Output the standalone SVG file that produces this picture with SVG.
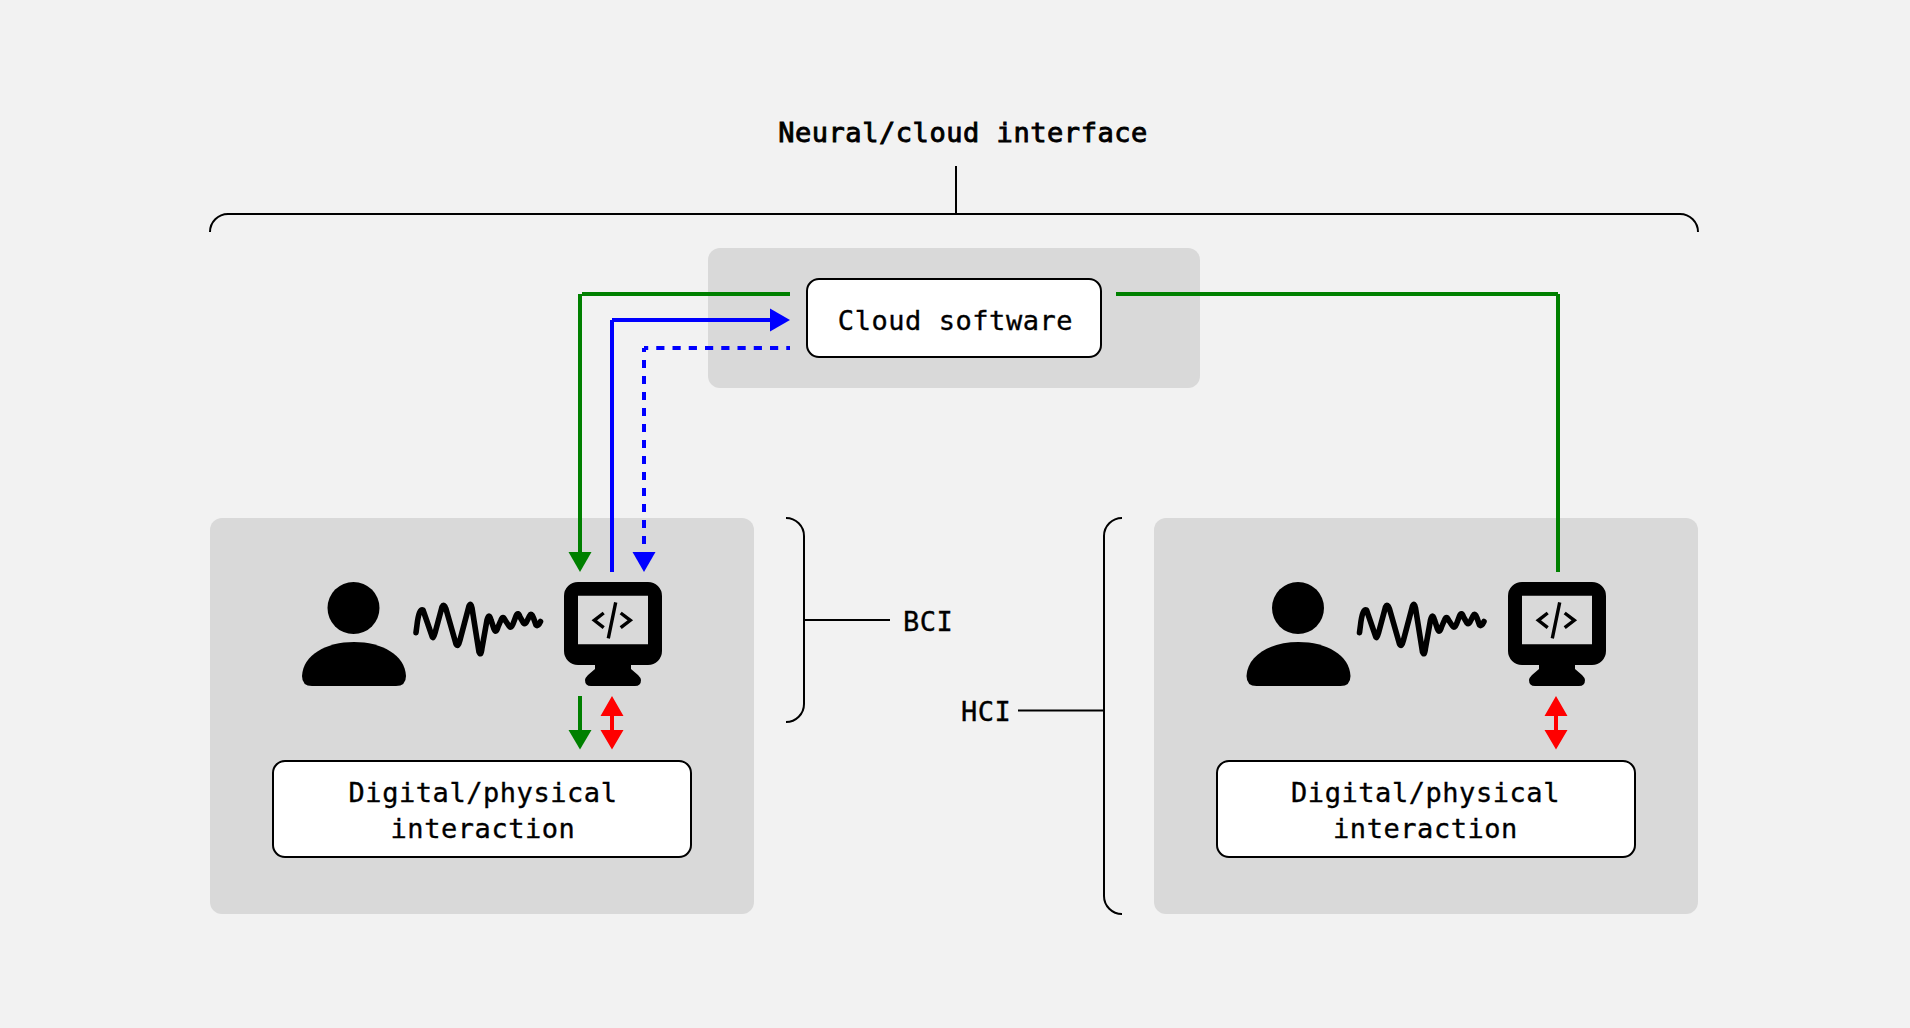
<svg xmlns="http://www.w3.org/2000/svg" width="1910" height="1028" viewBox="0 0 1910 1028">
<style>
.panel{fill:#d9d9d9}
.box{fill:#fff;stroke:#000;stroke-width:2}
.t{font-family:"DejaVu Sans Mono","Liberation Mono",monospace;font-size:27px;fill:#000;stroke:#000;stroke-width:.35px;letter-spacing:.55px}
.c{text-anchor:middle}
.b{stroke-width:.9px}
.br{fill:none;stroke:#000;stroke-width:2}
.g{stroke:#008000;stroke-width:4;fill:none}
.bl{stroke:#0000ff;stroke-width:4;fill:none}
.r{stroke:#ff0000;stroke-width:4;fill:none}
.code{fill:none;stroke:#000;stroke-width:3.4}
</style>
<defs>
<g id="person"><circle cx="353.5" cy="608" r="26"/><path d="M312 686Q302 686 302 676C303 655 326 642 354 642C382 642 405 655 406 676Q406 686 396 686Z"/></g>
<path id="wave" d="M416 632.7L417 625Q419 608 423 610L432 636Q433 640 435 633L442 607Q444 603 446 609L456 644Q458 648 460 640L469 606Q471 602 472 608L479 652Q481 657 482 648L487 620Q489 612 491 620L494 629Q496 634 498 627L501 620Q503 615 505 620L509 626Q511 629 513 624L516 616Q518 611 520 617L523.5 623Q525.5 625 527.5 620L529.5 616Q531.5 612 533.5 618L536 625Q538 627 540.5 621.5" fill="none" stroke="#000" stroke-width="5.6" stroke-linecap="round" stroke-linejoin="round"/>
<g id="mon">
<path fill-rule="evenodd" d="M578 582H648A14 14 0 0 1 662 596V651A14 14 0 0 1 648 665H631V669L638 675Q641 678 641 680Q641 686 635 686H591Q585 686 585 680Q585 678 588 675L595 669V665H578A14 14 0 0 1 564 651V596A14 14 0 0 1 578 582ZM578 595.7V644.3H648V595.7Z"/>
<path class="code" d="M603.7 613L594.3 620.3L603.7 627.7M620.7 613L630.3 620.3L620.7 627.7M615.7 602.3L608.3 638.3"/>
</g>
</defs>
<rect width="1910" height="1028" fill="#f2f2f2"/>
<g id="cloud-panel"><rect class="panel" x="708" y="248" width="492" height="140" rx="12"/></g>
<g id="left-panel"><rect class="panel" x="210" y="518" width="544" height="396" rx="12"/></g>
<g id="right-panel"><rect class="panel" x="1154" y="518" width="544" height="396" rx="12"/></g>
<g id="title"><text class="t b c" x="963" y="142">Neural/cloud interface</text></g>
<g id="cloud-brace"><path class="br" d="M210 232A18 18 0 0 1 228 214H1680A18 18 0 0 1 1698 232M956 166V214"/></g>
<g id="cloud-software"><rect class="box" x="807" y="279" width="294" height="78" rx="12"/><text class="t c" x="955.5" y="330">Cloud software</text></g>
<g id="left-person"><use href="#person"/></g>
<g id="left-wave"><use href="#wave"/></g>
<g id="left-monitor"><use href="#mon"/></g>
<g id="right-person"><use href="#person" x="944.5"/></g>
<g id="right-wave"><use href="#wave" x="943.5"/></g>
<g id="right-monitor"><use href="#mon" x="944"/></g>
<g id="left-interaction"><rect class="box" x="273" y="761" width="418" height="96" rx="12"/><text class="t c" x="483" y="802">Digital/physical</text><text class="t c" x="483" y="838">interaction</text></g>
<g id="right-interaction"><rect class="box" x="1217" y="761" width="418" height="96" rx="12"/><text class="t c" x="1425.5" y="802">Digital/physical</text><text class="t c" x="1425.5" y="838">interaction</text></g>
<g id="bci"><path class="br" d="M786 518A18 18 0 0 1 804 536V704A18 18 0 0 1 786 722M804 620H890"/><text class="t" x="903" y="630.5">BCI</text></g>
<g id="hci"><path class="br" d="M1122 518A18 18 0 0 0 1104 536V896A18 18 0 0 0 1122 914M1018 710.5H1104"/><text class="t" x="961" y="720.5">HCI</text></g>
<g id="connectors">
<path class="g" d="M790 294H582M580 294V552"/><path fill="#008000" d="M568.5 552H591.5L580 572Z"/>
<path class="bl" d="M612 572V320M612 320H770"/><path fill="#0000ff" d="M770 308.5V331.5L790 320Z"/>
<path class="bl" stroke-dasharray="8.2 8.05" stroke-dashoffset="4" d="M644 348H790"/>
<path class="bl" stroke-dasharray="8 8" stroke-dashoffset="4" d="M644 348V552"/><path fill="#0000ff" d="M632.5 552H655.5L644 572Z"/>
<path class="g" d="M1116 294H1558M1558 294V572"/>
<path class="g" d="M580 696V730"/><path fill="#008000" d="M568.5 730H591.5L580 749.5Z"/>
<path class="r" d="M612 716V730"/><path fill="#ff0000" d="M600.5 716H623.5L612 696ZM600.5 730H623.5L612 749.5Z"/>
<path class="r" d="M1556 716V730"/><path fill="#ff0000" d="M1544.5 716H1567.5L1556 696ZM1544.5 730H1567.5L1556 749.5Z"/>
</g>
</svg>
